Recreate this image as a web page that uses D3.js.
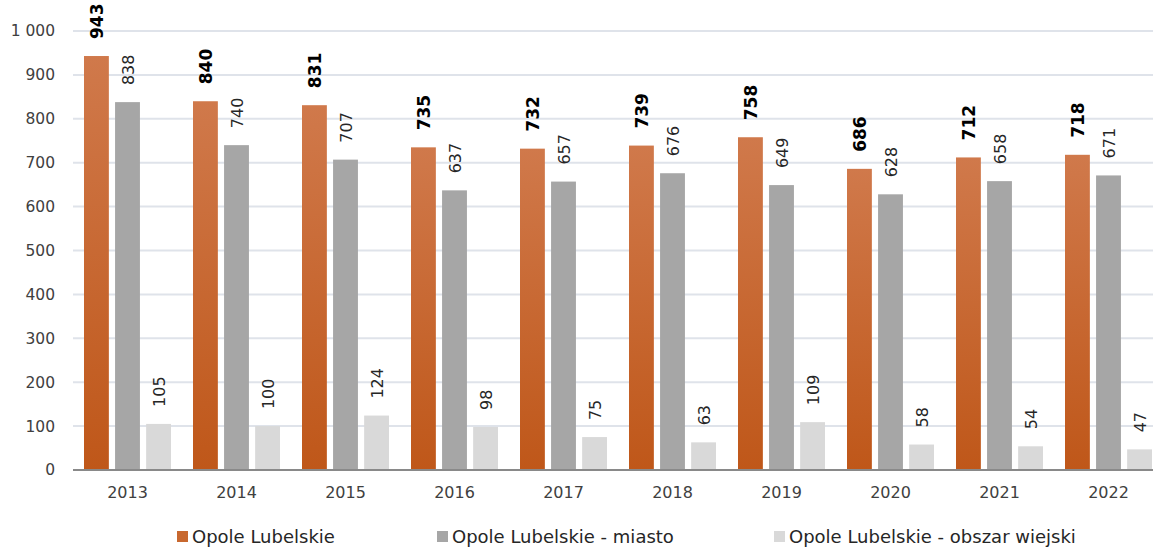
<!DOCTYPE html>
<html>
<head>
<meta charset="utf-8">
<script src="https://cdn.jsdelivr.net/npm/d3@7"></script>
<style>
  html, body { margin: 0; padding: 0; background: #fff; }
  svg { display: block; }
</style>
</head>
<body>
<svg id="chart" width="1153" height="549"></svg>
<script>
// Years on the category axis
const years = ["2013", "2014", "2015", "2016", "2017", "2018", "2019", "2020", "2021", "2022"];
// Series names (legend labels)
const seriesNames = ["Opole Lubelskie", "Opole Lubelskie - miasto", "Opole Lubelskie - obszar wiejski"];
// Values per series
const total = [943, 840, 831, 735, 732, 739, 758, 686, 712, 718];
const town  = [838, 740, 707, 637, 657, 676, 649, 628, 658, 671];
const rural = [105, 100, 124, 98, 75, 63, 109, 58, 54, 47];
const yTicks = [0, 100, 200, 300, 400, 500, 600, 700, 800, 900, 1000];

const seriesValues = [total, town, rural];
const FONT = "'DejaVu Sans', sans-serif";

const svg = d3.select("#chart");

// Gradient for the main series
const defs = svg.append("defs");
const grad = defs.append("linearGradient")
  .attr("id", "orangeGrad")
  .attr("x1", 0).attr("y1", 0).attr("x2", 0).attr("y2", 1);
grad.append("stop").attr("offset", "0%").attr("stop-color", "#d0794b");
grad.append("stop").attr("offset", "100%").attr("stop-color", "#bf5719");

const fills = ["url(#orangeGrad)", "#a6a6a6", "#d9d9d9"];
const legendFills = ["#c8682f", "#a6a6a6", "#d9d9d9"];

const y = d3.scaleLinear().domain([0, 1000]).range([470, 31]);
const x = d3.scaleBand().domain(years).range([73, 1163]).padding(0);
const groupWidth = 87;
const xs = d3.scaleBand().domain(d3.range(3)).range([0, groupWidth]).paddingInner(0.2);
const groupOffset = (x.bandwidth() - groupWidth) / 2;

// Gridlines
svg.append("g")
  .selectAll("line")
  .data(yTicks.filter(t => t > 0))
  .join("line")
  .attr("x1", 73).attr("x2", 1153)
  .attr("y1", d => y(d)).attr("y2", d => y(d))
  .attr("stroke", "#dfe3ea")
  .attr("stroke-width", 2);

// Y axis labels, thousands separated by a space
const yAxis = d3.axisLeft(y)
  .tickValues(yTicks)
  .tickSize(0)
  .tickPadding(0)
  .tickFormat(d => d3.format(",")(d).replace(/,/g, " "));
const gy = svg.append("g").attr("transform", "translate(55,0)").call(yAxis);
gy.select(".domain").remove();
gy.selectAll("text")
  .attr("font-family", FONT)
  .attr("font-size", 15.5)
  .attr("fill", "#404040");

// Bars with rotated value labels
const groups = svg.append("g")
  .selectAll("g")
  .data(years)
  .join("g")
  .attr("transform", d => `translate(${x(d) + groupOffset},0)`);

groups.each(function(year, i) {
  const g = d3.select(this);
  seriesValues.forEach((vals, s) => {
    const v = vals[i];
    const bx = xs(s);
    const bw = xs.bandwidth();
    g.append("rect")
      .attr("x", bx)
      .attr("y", y(v))
      .attr("width", bw)
      .attr("height", y(0) - y(v))
      .attr("fill", fills[s]);
    g.append("text")
      .attr("transform", `translate(${bx + bw / 2 + 1},${y(v) - 17}) rotate(-90)`)
      .attr("text-anchor", "start")
      .attr("dominant-baseline", "central")
      .attr("font-family", FONT)
      .attr("font-size", s === 0 ? 17 : 16)
      .attr("font-weight", s === 0 ? "bold" : "normal")
      .attr("fill", s === 0 ? "#000" : "#262626")
      .text(v);
  });
});

// X axis
const xAxis = d3.axisBottom(x).tickSize(0).tickPadding(17);
const gx = svg.append("g").attr("transform", `translate(0,${y(0)})`).call(xAxis);
gx.select(".domain").remove();
gx.selectAll("text")
  .attr("font-family", FONT)
  .attr("font-size", 16)
  .attr("fill", "#404040");
svg.append("line")
  .attr("x1", 73).attr("x2", 1153)
  .attr("y1", y(0)).attr("y2", y(0))
  .attr("stroke", "#898989")
  .attr("stroke-width", 2);

// Legend
const legendX = [177, 437, 774];
const legend = svg.append("g")
  .selectAll("g")
  .data(seriesNames)
  .join("g")
  .attr("transform", (d, i) => `translate(${legendX[i]},531)`);
legend.append("rect")
  .attr("width", 11).attr("height", 11)
  .attr("fill", (d, i) => legendFills[i]);
legend.append("text")
  .attr("x", 15)
  .attr("y", 12)
  .attr("font-family", FONT)
  .attr("font-size", 18)
  .attr("fill", "#262626")
  .text(d => d);
</script>
</body>
</html>
